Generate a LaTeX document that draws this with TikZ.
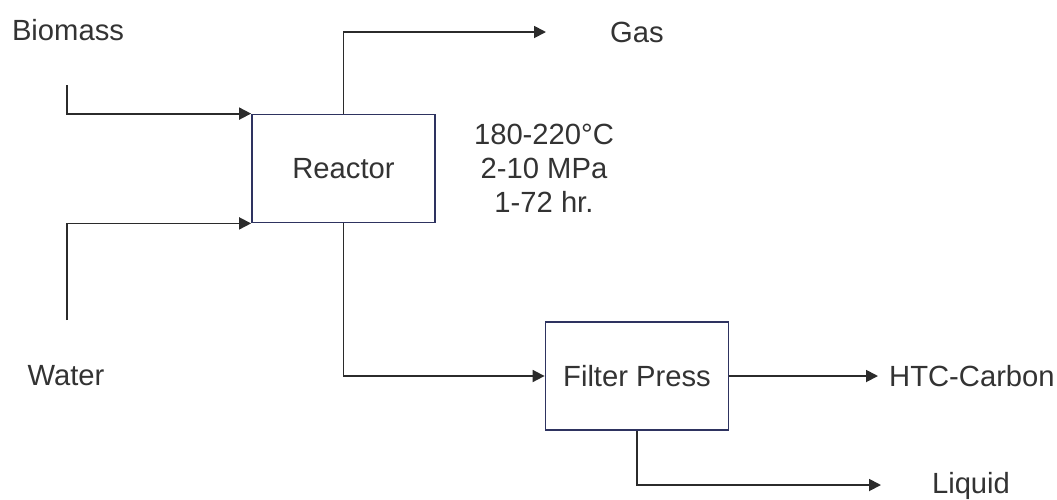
\documentclass[tikz,border=0pt]{standalone}
\usepackage{fontspec}
\setmainfont{Liberation Sans}
\usetikzlibrary{arrows.meta}
\definecolor{txt}{HTML}{333333}
\definecolor{ln}{HTML}{2B2B2B}
\definecolor{bx}{HTML}{2E3360}
\tikzset{
  lbl/.style={text=txt,font=\fontsize{29.2}{34}\selectfont,inner sep=0pt,align=center},
  procbox/.style={draw=bx,line width=1.8pt,fill=white,minimum width=183pt,minimum height=108pt,inner sep=0pt,text=txt,font=\fontsize{29.2}{34}\selectfont},
  arr/.style={draw=ln,line width=1.8pt,-{Triangle[length=12pt,width=12pt]}},
  ln/.style={draw=ln,line width=1.8pt}
}
\begin{document}
\begin{tikzpicture}[x=1pt,y=-1pt]
\useasboundingbox (0,0) rectangle (1057,499);
\node[procbox] (reactor) at (343.5,168.5) {Reactor};
\node[procbox] (filter) at (637,376) {Filter Press};
\node[lbl] (biomass) at (68,30) {Biomass};
\node[lbl] (water) at (66,376) {Water};
\node[lbl] (gas) at (637,32) {Gas};
\node[lbl] (cond) at (544,168) {180-220°C\\2-10 MPa\\1-72 hr.};
\node[lbl,anchor=west] (htc) at (889,376) {HTC-Carbon};
\node[lbl] (liquid) at (971,486) {Liquid};
\coordinate (bin) at (67,85);
\coordinate (win) at (67,320);
\coordinate (gasend) at (546,32);
\coordinate (htcend) at (878,376);
\coordinate (liqend) at (881,485);
\draw[arr] (bin) |- (reactor.north west);
\draw[arr] (win) |- (reactor.south west);
\draw[arr] (reactor.north) |- (gasend);
\draw[arr] (reactor.south) |- (filter.west);
\draw[arr] (filter.east) -- (htcend);
\draw[arr] (filter.south) |- (liqend);
\end{tikzpicture}
\end{document}
